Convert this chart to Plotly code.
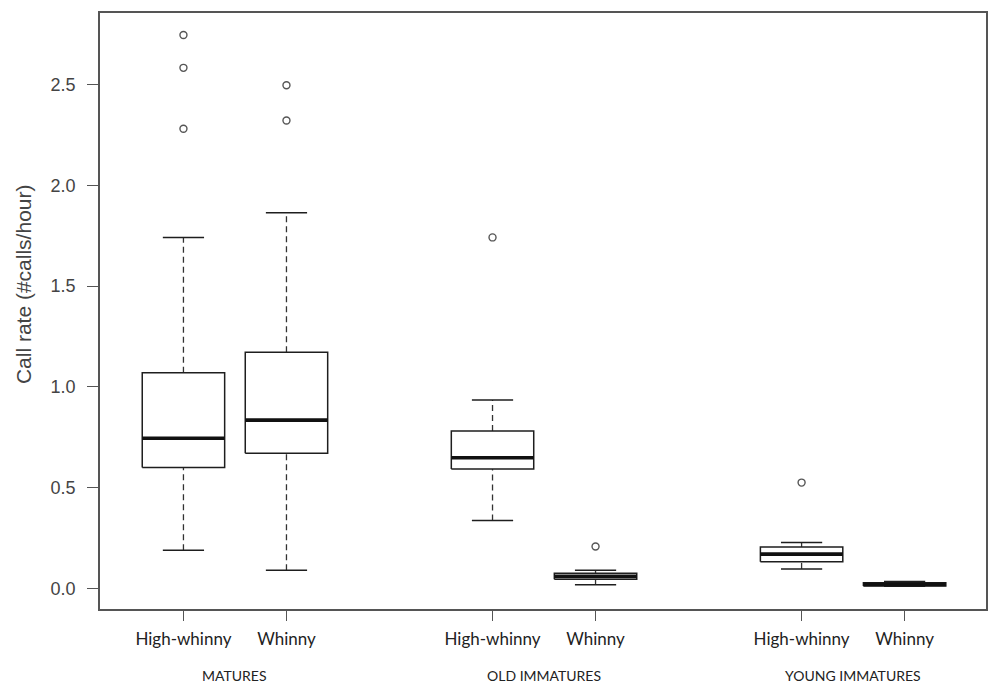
import plotly.graph_objects as go

# Call-rate summaries per age class and call type
age_classes = ["MATURES", "OLD IMMATURES", "YOUNG IMMATURES"]
call_types = ["High-whinny", "Whinny", "High-whinny", "Whinny", "High-whinny", "Whinny"]
positions = [1, 2, 4, 5, 7, 8]
group_centers = [1.5, 4.5, 7.5]

lower_whisker = [0.19, 0.09, 0.337, 0.018, 0.097, 0.011]
q1 = [0.600, 0.671, 0.592, 0.045, 0.132, 0.012]
median = [0.745, 0.835, 0.648, 0.060, 0.170, 0.020]
q3 = [1.070, 1.171, 0.781, 0.075, 0.205, 0.028]
upper_whisker = [1.740, 1.863, 0.935, 0.090, 0.228, 0.035]
outliers = [[2.28, 2.582, 2.745], [2.321, 2.496], [1.741], [0.208], [0.525], []]

BOX_HALF = 0.4
CAP_HALF = 0.2

box_x, box_y = [], []
med_x, med_y = [], []
stem_x, stem_y = [], []
cap_x, cap_y = [], []
out_x, out_y = [], []
for p, lo, a, m, b, hi, outs in zip(positions, lower_whisker, q1, median, q3,
                                     upper_whisker, outliers):
    box_x += [p - BOX_HALF, p + BOX_HALF, p + BOX_HALF, p - BOX_HALF, p - BOX_HALF, None]
    box_y += [a, a, b, b, a, None]
    med_x += [p - BOX_HALF, p + BOX_HALF, None]
    med_y += [m, m, None]
    stem_x += [p, p, None, p, p, None]
    stem_y += [b, hi, None, lo, a, None]
    cap_x += [p - CAP_HALF, p + CAP_HALF, None, p - CAP_HALF, p + CAP_HALF, None]
    cap_y += [hi, hi, None, lo, lo, None]
    out_x += [p] * len(outs)
    out_y += outs

ink = "#1e1e1e"
fig = go.Figure()
fig.add_trace(go.Scatter(x=stem_x, y=stem_y, mode="lines",
                         line=dict(color="#333333", width=1.3, dash="6px,4px"),
                         hoverinfo="skip"))
fig.add_trace(go.Scatter(x=cap_x, y=cap_y, mode="lines",
                         line=dict(color=ink, width=1.5), hoverinfo="skip"))
fig.add_trace(go.Scatter(x=box_x, y=box_y, mode="lines", fill="toself",
                         fillcolor="white", line=dict(color=ink, width=1.5),
                         hoverinfo="skip"))
fig.add_trace(go.Scatter(x=med_x, y=med_y, mode="lines",
                         line=dict(color="#111111", width=3.6), hoverinfo="skip"))
fig.add_trace(go.Scatter(x=out_x, y=out_y, mode="markers",
                         marker=dict(symbol="circle-open", size=7,
                                     color="#555555", line=dict(width=1.4)),
                         hoverinfo="skip"))

for xc, name in zip(group_centers, age_classes):
    fig.add_annotation(x=xc, xref="x", y=-0.111, yref="paper", text=name,
                       showarrow=False, yanchor="middle",
                       font=dict(family="Lato", size=14, color="#222222"))

fig.add_annotation(x=-0.087, xref="paper", y=0.545, yref="paper",
                   text="Call rate (#calls/hour)", textangle=-90, showarrow=False,
                   xanchor="center", yanchor="middle",
                   font=dict(family="Liberation Sans, Arial", size=21, color="#444444"))

fig.update_layout(
    width=989, height=686,
    margin=dict(l=100, r=1, t=13, b=77),
    paper_bgcolor="white", plot_bgcolor="white",
    showlegend=False,
    xaxis=dict(range=[0.19, 8.79], tickmode="array", tickvals=positions,
               ticktext=call_types, ticks="outside", ticklen=10, tickwidth=1.3,
               tickcolor="#555555", showline=True, linecolor="#555555", linewidth=1.5,
               mirror=True, showgrid=False, zeroline=False, ticklabelstandoff=4,
               tickfont=dict(family="Lato", size=17, color="#222222")),
    yaxis=dict(range=[-0.102, 2.854], tickmode="array",
               tickvals=[0, 0.5, 1.0, 1.5, 2.0, 2.5],
               ticktext=["0.0", "0.5", "1.0", "1.5", "2.0", "2.5"],
               ticks="outside", ticklen=11, tickwidth=1.3, tickcolor="#555555",
               showline=True, linecolor="#555555", linewidth=1.5, mirror=True,
               showgrid=False, zeroline=False, ticklabelstandoff=8,
               tickfont=dict(family="Liberation Sans, Arial", size=18, color="#444444")),
)

fig.write_html("out.html")
